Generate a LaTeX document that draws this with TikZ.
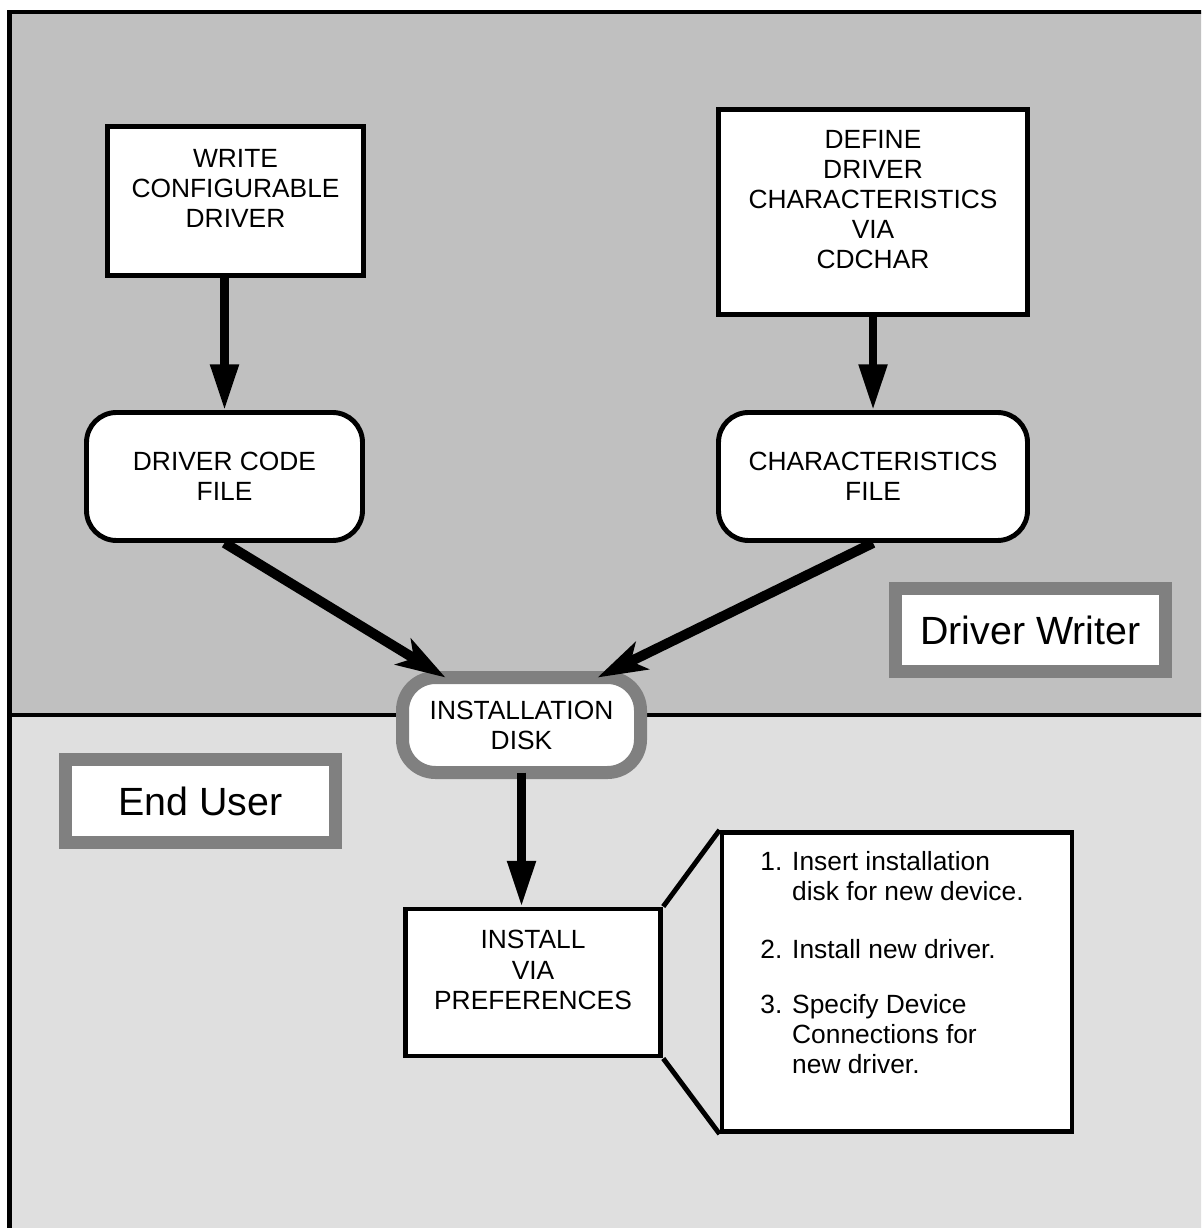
\documentclass[tikz,border=0pt]{standalone}
\usepackage{fontspec}
\setmainfont{Liberation Sans}
\usetikzlibrary{arrows.meta}
\definecolor{writergray}{RGB}{192,192,192}
\definecolor{usergray}{RGB}{223,223,223}
\definecolor{rimgray}{RGB}{128,128,128}
% lines of a box, set a little above its middle
\newcommand{\liftlines}[1]{\begin{tabular}{@{}c@{}}#1\\[0.19cm]\end{tabular}}

\begin{document}
\begin{tikzpicture}[
    box/.style={draw, fill=white, line width=1.4pt, align=center,
      font=\fontsize{7.5}{8.54}\selectfont, inner sep=0pt},
    filebox/.style={box, rounded corners=0.3cm},
    diskbox/.style={box, draw=rimgray, line width=3.7pt, rounded corners=0.33cm, outer sep=0pt},
    rolebox/.style={draw=rimgray, fill=white, line width=3.7pt, inner sep=0pt,
      font=\fontsize{11.2}{13}\selectfont, minimum width=2.7cm, minimum height=0.83cm},
    flow/.style={-{Triangle[length=13pt, width=7.7pt]}, line width=2.3pt},
    merge/.style={-{Stealth[length=14pt, width=8.5pt, inset=3.5pt]}, line width=2.85pt}]
  \clip (0,0) rectangle (12.01,-12.28);

  % two panels
  \fill[writergray] (0.095,-0.12) rectangle (12.5,-7.15);
  \fill[usergray] (0.095,-7.15) rectangle (12.5,-12.5);
  \draw[line width=1.4pt] (0.095,-0.12) rectangle (12.5,-12.5);
  \draw[line width=1.4pt] (0.095,-7.15) -- (12.5,-7.15);

  % driver writer side
  \node[box, minimum width=2.56cm, minimum height=1.49cm] (write) at (2.355,-2.01)
    {\liftlines{WRITE\\CONFIGURABLE\\DRIVER}};
  \node[box, minimum width=3.09cm, minimum height=2.05cm] (define) at (8.73,-2.12)
    {\liftlines{DEFINE\\DRIVER\\CHARACTERISTICS\\VIA\\CDCHAR}};
  \node[filebox, minimum width=2.76cm, minimum height=1.28cm] (code) at (2.245,-4.765)
    {DRIVER CODE\\FILE};
  \node[filebox, minimum width=3.09cm, minimum height=1.28cm] (chars) at (8.73,-4.765)
    {CHARACTERISTICS\\FILE};
  \node[rolebox] (writer) at (10.305,-6.30) {Driver Writer};

  \draw[flow] (code.north |- write.south) -- (code.north);
  \draw[flow] (chars.north |- define.south) -- (chars.north);

  % installation disk
  \node[diskbox, minimum width=2.38cm, minimum height=0.95cm] (disk) at (5.215,-7.25)
    {INSTALLATION\\DISK};
  \draw[merge] (code.south) -- (disk.148);
  \draw[merge] (chars.south) -- (disk.32);

  % end user side
  \node[rolebox] (user) at (2.005,-8.01) {End User};
  \node[box, minimum width=2.555cm, minimum height=1.47cm] (install) at (5.33,-9.825)
    {\liftlines{INSTALL\\VIA\\PREFERENCES}};
  \node[box, minimum width=3.5cm, minimum height=2.99cm] (notes) at (8.97,-9.82)
    {\begin{tabular}{@{}r@{\hspace{2.8pt}}l@{\hspace{0.1cm}}}
      1. & Insert installation\\ & disk for new device.\\[8pt]
      2. & Install new driver.\\[7pt]
      3. & Specify Device\\ & Connections for\\ & new driver.\\[9pt]
    \end{tabular}};

  \draw[flow] (disk.south) -- (disk.south |- install.north);
  \draw[line width=1.4pt] (install.north east) -- (notes.north west);
  \draw[line width=1.4pt] (install.south east) -- (notes.south west);
\end{tikzpicture}
\end{document}
